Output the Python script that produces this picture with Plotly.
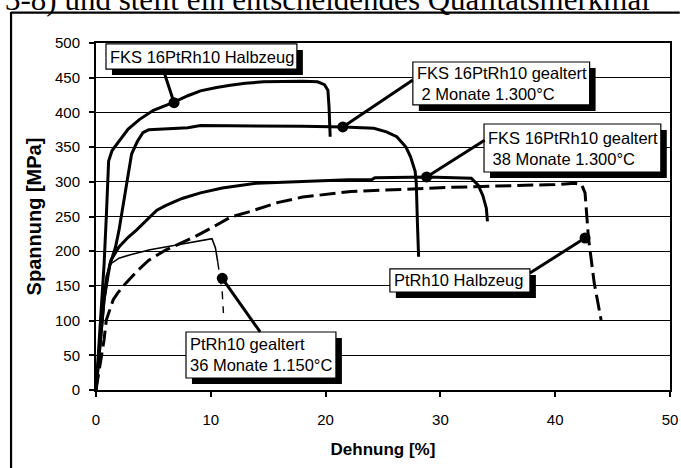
import plotly.graph_objects as go

# ---------------- data (strain in %, stress in MPa) ----------------
fks_hz_x = [0, 0.2, 0.45, 0.7, 0.9, 1.0, 1.1, 1.4, 2.1, 2.8, 3.8, 5.0, 6.7, 8.0, 9.1, 10.5,
            11.7, 13.0, 14.6, 16.5, 18.0, 19.3, 19.9, 20.2, 20.3, 20.4]
fks_hz_y = [0, 50, 110, 180, 250, 300, 330, 345, 360, 376, 390, 403, 414, 424, 431, 436,
            439, 442, 444, 445, 445, 444, 440, 432, 408, 365]

fks_2m_x = [0, 0.3, 0.7, 1.2, 1.7, 2.0, 2.4, 2.8, 3.1, 3.6, 4.1, 4.6, 5.5, 6.8, 8.0, 9.1,
            12.0, 15.0, 18.0, 21.6, 23.0, 24.2, 25.3, 26.2, 27.0, 27.4, 27.8, 27.9, 28.0, 28.1]
fks_2m_y = [0, 60, 130, 180, 206, 230, 270, 310, 340, 358, 371, 375, 376, 377, 378, 381,
            381, 380, 380, 379, 378, 377, 372, 365, 350, 336, 315, 298, 240, 192]

fks_38m_x = [0, 0.3, 0.7, 1.0, 1.3, 2.0, 2.8, 3.5, 4.4, 5.3, 6.1, 7.5, 9.1, 11.0, 14.0,
             17.0, 19.8, 22.0, 24.0, 24.3, 28.9, 31.0, 32.7, 33.3, 33.7, 34.0, 34.1]
fks_38m_y = [0, 60, 130, 165, 187, 206, 220, 230, 245, 259, 266, 276, 284, 291, 298,
             300, 302, 303, 303, 306, 307, 306, 305, 295, 280, 262, 243]

ptrh_hz_x = [0, 0.4, 0.7, 0.9, 1.5, 1.9, 2.6, 3.5, 4.6, 6.1, 7.6, 8.5, 10.0, 11.7, 13.4,
             15.8, 18.0, 20.4, 22.2, 25.0, 27.7, 31.0, 35.0, 37.9, 40.0, 41.7, 42.3, 42.6,
             42.7, 42.9, 43.4, 43.8, 44.0]
ptrh_hz_y = [0, 40, 72, 101, 130, 140, 154, 170, 187, 202, 213, 220, 233, 249, 257,
             270, 278, 283, 286, 288, 290, 292, 294, 295, 296, 298, 296, 284,
             259, 219, 154, 115, 101]

ptrh_36m_x = [0, 0.3, 0.6, 0.9, 1.3, 2.0, 3.0, 4.7, 6.1, 7.5, 9.0, 10.1, 10.4, 10.6]
ptrh_36m_y = [0, 70, 130, 165, 182, 190, 195, 202, 206, 210, 214, 218, 205, 185]
ptrh_36m_drop_x = [10.6, 10.8, 11.0, 11.1]
ptrh_36m_drop_y = [185, 165, 140, 111]

# labels and the points on the curves they point to
label_text = ["FKS 16PtRh10 Halbzeug",
              "FKS 16PtRh10 gealtert<br>\u00a02 Monate 1.300°C",
              "FKS 16PtRh10 gealtert<br>\u00a038 Monate 1.300°C",
              "PtRh10 Halbzeug",
              "PtRh10 gealtert<br>36 Monate 1.150°C"]
dot_x = [6.8, 21.5, 28.8, 42.6, 11.0]
dot_y = [414, 379, 307, 219, 161]

x_ticks = [0, 10, 20, 30, 40, 50]
y_ticks = [0, 50, 100, 150, 200, 250, 300, 350, 400, 450, 500]

# ---------------- figure ----------------
FONT = "Liberation Sans, Arial, sans-serif"
fig = go.Figure()


def curve(x, y, width, dash="solid"):
    fig.add_trace(go.Scatter(x=x, y=y, mode="lines",
                             line=dict(color="black", width=width, dash=dash),
                             hoverinfo="skip", showlegend=False))


curve(ptrh_36m_x, ptrh_36m_y, 1.6)
curve(ptrh_36m_drop_x, ptrh_36m_drop_y, 1.4, "8px,7px")
curve(ptrh_hz_x, ptrh_hz_y, 3, "16px,6px")
curve(fks_38m_x, fks_38m_y, 3)
curve(fks_2m_x, fks_2m_y, 3)
curve(fks_hz_x, fks_hz_y, 3)

# boxes (data coords): x0, x1, y0, y1 ; leader start points
boxes = [(0.87, 17.5, 462.5, 498.6),
         (27.6, 43.0, 410.7, 472.6),
         (33.8, 49.2, 314.1, 383.3),
         (25.6, 37.8, 141.2, 174.4),
         (7.84, 20.9, 17.3, 83.6)]
leader_start = [(5.84, 462.5), (27.6, 446.7), (33.85, 360.0), (37.8, 168.6), (14.3, 83.6)]
sdx, sdy = 0.52, 8.6

shapes = []
for (x0, x1, y0, y1), (lx, ly), dx, dy in zip(boxes, leader_start, dot_x, dot_y):
    shapes.append(dict(type="rect", xref="x", yref="y", x0=x0 + sdx, x1=x1 + sdx,
                       y0=y0 - sdy, y1=y1 - sdy, fillcolor="black",
                       line=dict(width=0), layer="above"))
    shapes.append(dict(type="rect", xref="x", yref="y", x0=x0, x1=x1, y0=y0, y1=y1,
                       fillcolor="white", line=dict(color="black", width=1.2),
                       layer="above"))
    shapes.append(dict(type="line", xref="x", yref="y", x0=lx, y0=ly, x1=dx, y1=dy,
                       line=dict(color="black", width=3), layer="above"))

# outer frame of the embedded figure (only left and top edges are visible)
shapes.append(dict(type="line", xref="paper", yref="paper",
                   x0=-0.148, x1=-0.148, y0=-0.2245, y1=1.089,
                   line=dict(color="black", width=2.2)))
shapes.append(dict(type="line", xref="paper", yref="paper",
                   x0=-0.148, x1=1.017, y0=1.0875, y1=1.0875,
                   line=dict(color="black", width=2.2)))

fig.add_trace(go.Scatter(x=dot_x, y=dot_y, mode="markers",
                         marker=dict(color="black", size=11),
                         hoverinfo="skip", showlegend=False))

annotations = []
for (x0, x1, y0, y1), txt in zip(boxes, label_text):
    annotations.append(dict(x=x0 + 0.18, y=(y0 + y1) / 2, xref="x", yref="y",
                            xanchor="left", yanchor="middle", align="left",
                            text=txt, showarrow=False,
                            font=dict(family=FONT, size=16.5, color="black")))

# cut-off running text of the document above the figure
annotations.append(dict(x=-0.162, y=1.068, xref="paper", yref="paper",
                        xanchor="left", yanchor="bottom", showarrow=False,
                        text="3-8) und stellt ein entscheidendes Qualitätsmerkmal",
                        font=dict(family="Liberation Serif, Times New Roman, serif",
                                  size=31, color="black")))

fig.update_layout(
    width=681, height=468, autosize=False,
    margin=dict(l=96, r=11, t=43, b=78, autoexpand=False),
    paper_bgcolor="white", plot_bgcolor="white",
    shapes=shapes, annotations=annotations,
    font=dict(family=FONT, color="black"),
)

fig.update_xaxes(range=[0, 50], tickvals=x_ticks, ticktext=[str(v) for v in x_ticks],
                 automargin=False,
                 showgrid=False, zeroline=False,
                 showline=True, linecolor="black", linewidth=2, mirror=True,
                 ticks="outside", ticklen=5, tickwidth=1.5, tickcolor="black",
                 tickfont=dict(family=FONT, size=15, color="black"),
                 ticklabelstandoff=10,
                 title=dict(text="<b>Dehnung [%]</b>", standoff=16,
                            font=dict(family=FONT, size=17, color="black")))

fig.update_yaxes(range=[0, 500], tickvals=y_ticks, ticktext=[str(v) for v in y_ticks],
                 automargin=False,
                 showgrid=True, gridcolor="black", gridwidth=1.3, zeroline=False,
                 showline=True, linecolor="black", linewidth=2, mirror=True,
                 ticks="outside", ticklen=5, tickwidth=1.5, tickcolor="black",
                 tickfont=dict(family=FONT, size=15, color="black"),
                 ticklabelstandoff=6,
                 title=dict(text="<b>Spannung [MPa]</b>", standoff=8,
                            font=dict(family=FONT, size=20, color="black")))

fig.write_html("out.html", config={"displayModeBar": False},
               post_script=("document.documentElement.style.overflow='hidden';"
                            "document.body.style.overflow='hidden';"
                            "document.body.style.margin='0';"
                            "document.body.style.padding='0';"))
